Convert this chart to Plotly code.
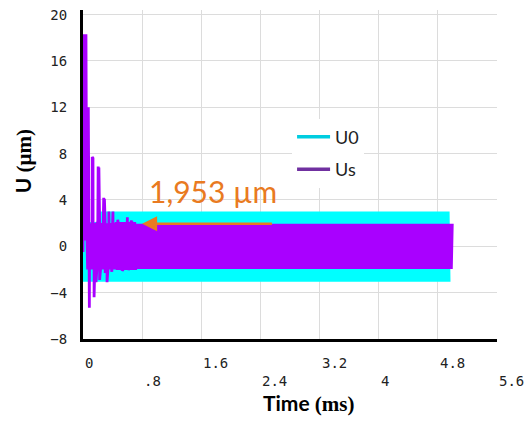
import numpy as np
import plotly.graph_objects as go

# ---- axes ----
x_ticks = [0, 0.8, 1.6, 2.4, 3.2, 4.0, 4.8, 5.6]
x_tick_text = ["0", ".8", "1.6", "2.4", "3.2", "4", "4.8", "5.6"]
y_ticks = [-8, -4, 0, 4, 8, 12, 16, 20]

# ---- signals (time in ms, displacement in µm) ----
half_period = 0.0125          # spacing of successive extremes in the dense oscillation

# U0: envelope of the steady excitation, per segment
u0_start = [0.0, 0.22]
u0_end = [0.22, 4.97]
u0_upper = [2.1, 3.0]
u0_lower = [-3.05, -3.05]

# Us: settled amplitude and envelope segments
us_amplitude = 1.953
us_start = [0.05, 0.45, 0.72]
us_end = [0.45, 0.72, 5.0]
us_upper = [2.0, 2.1, us_amplitude]
us_lower = [-2.0, -2.05, -1.95]

# Us: transient extremes
us_peak_t = [0.000, 0.008, 0.016, 0.024, 0.032, 0.040, 0.052, 0.072, 0.086, 0.100,
             0.125, 0.135, 0.150, 0.176, 0.190, 0.205, 0.215, 0.225, 0.280, 0.290,
             0.300, 0.325, 0.350, 0.390, 0.405, 0.470, 0.530, 0.600, 0.615, 0.660]
us_peak_v = [-0.5, 18.3, 1.0, 18.3, 0.5, 18.3, -1.0, 12.0, -5.3, 1.5,
             7.7, 7.6, -4.4, -3.1, 2.0, 6.9, 6.8, -2.9, 4.2, 4.1,
             -2.3, -3.1, 3.0, -2.2, 3.0, 2.3, -2.1, 2.5, -2.0, 2.2]


def extremes(starts, ends, uppers, lowers, step):
    ts, vs = [], []
    for s, e, up, lo in zip(starts, ends, uppers, lowers):
        t = np.arange(s, e, step)
        v = np.where(np.arange(len(t)) % 2 == 0, up, lo)
        ts.append(t)
        vs.append(v)
    return np.concatenate(ts), np.concatenate(vs)


u0_t, u0_v = extremes(u0_start, u0_end, u0_upper, u0_lower, half_period)
us_t, us_v = extremes(us_start, us_end, us_upper, us_lower, half_period)
us_t = np.concatenate([us_t, us_peak_t])
us_v = np.concatenate([us_v, us_peak_v])
order = np.argsort(us_t, kind="stable")
us_t, us_v = us_t[order], us_v[order]

fig = go.Figure()
fig.add_trace(go.Scatter(x=u0_t, y=u0_v, mode="lines", line=dict(color="#00ffff", width=2),
                         showlegend=False, hoverinfo="skip"))
fig.add_trace(go.Scatter(x=us_t, y=us_v, mode="lines", line=dict(color="#a900ff", width=2.8),
                         showlegend=False, hoverinfo="skip"))
# legend entries
fig.add_trace(go.Scatter(x=[None], y=[None], mode="lines", name="U0",
                         line=dict(color="#00cde0", width=3.5), legendgroup="a"))
fig.add_trace(go.Scatter(x=[None], y=[None], mode="lines", name="Us",
                         line=dict(color="#7030a0", width=3.5), legendgroup="b"))

grid = "#dcdcdc"
mono = "DejaVu Sans Mono"

fig.update_xaxes(range=[0, 5.6], tickvals=x_ticks, showticklabels=False, showgrid=True,
                 gridcolor=grid, gridwidth=1, zeroline=False, showline=True,
                 linecolor="black", linewidth=3, ticks="", layer="below traces")
fig.update_yaxes(range=[-8, 20.4], tickvals=y_ticks, showgrid=True, gridcolor=grid,
                 gridwidth=1, zeroline=False, showline=True, linecolor="black",
                 linewidth=3, ticks="", ticklabelstandoff=10, layer="below traces",
                 tickfont=dict(family=mono, size=14, color="#222222"))

annotations = []
for i, (v, txt) in enumerate(zip(x_ticks, x_tick_text)):
    annotations.append(dict(x=v, y=0, xref="x", yref="paper", text=txt, showarrow=False,
                            xanchor="left", yanchor="middle",
                            yshift=-24 if i % 2 == 0 else -42,
                            font=dict(family=mono, size=14, color="#222222")))

annotations.append(dict(x=-0.145, y=0.54, xref="paper", yref="paper", textangle=-90,
                        xanchor="center", yanchor="middle",
                        text="<b>U <span style='font-family:Liberation Serif'>(µm)</span></b>",
                        showarrow=False, font=dict(family="Lato", size=21, color="black")))
annotations.append(dict(x=0.544, y=-0.195, xref="paper", yref="paper",
                        xanchor="center", yanchor="middle",
                        text="<b>Time <span style='font-family:Liberation Serif'>(ms)</span></b>",
                        showarrow=False, font=dict(family="Lato", size=21, color="black")))

# amplitude callout
annotations.append(dict(x=0.80, y=us_amplitude, ax=2.576, ay=us_amplitude, xref="x", yref="y",
                        axref="x", ayref="y", text="", showarrow=True, arrowhead=2,
                        arrowsize=1.2, arrowwidth=2.5, arrowcolor="#e97a21"))
annotations.append(dict(x=1.763, y=4.75, xref="x", yref="y",
                        text=f"{us_amplitude:.3f} µm".replace(".", ","),
                        xanchor="center", yanchor="middle",
                        showarrow=False, font=dict(family="Lato", size=30, color="#e97a21")))

fig.update_layout(
    width=524, height=425,
    margin=dict(l=83, r=27, t=7, b=86),
    paper_bgcolor="white", plot_bgcolor="white",
    annotations=annotations,
    legend=dict(x=0.505, y=0.67, xanchor="left", yanchor="top", bgcolor="white",
                font=dict(family="Lato", size=18, color="#222222"), itemwidth=33,
                traceorder="grouped", tracegroupgap=6),
)

fig.write_html("out.html")
